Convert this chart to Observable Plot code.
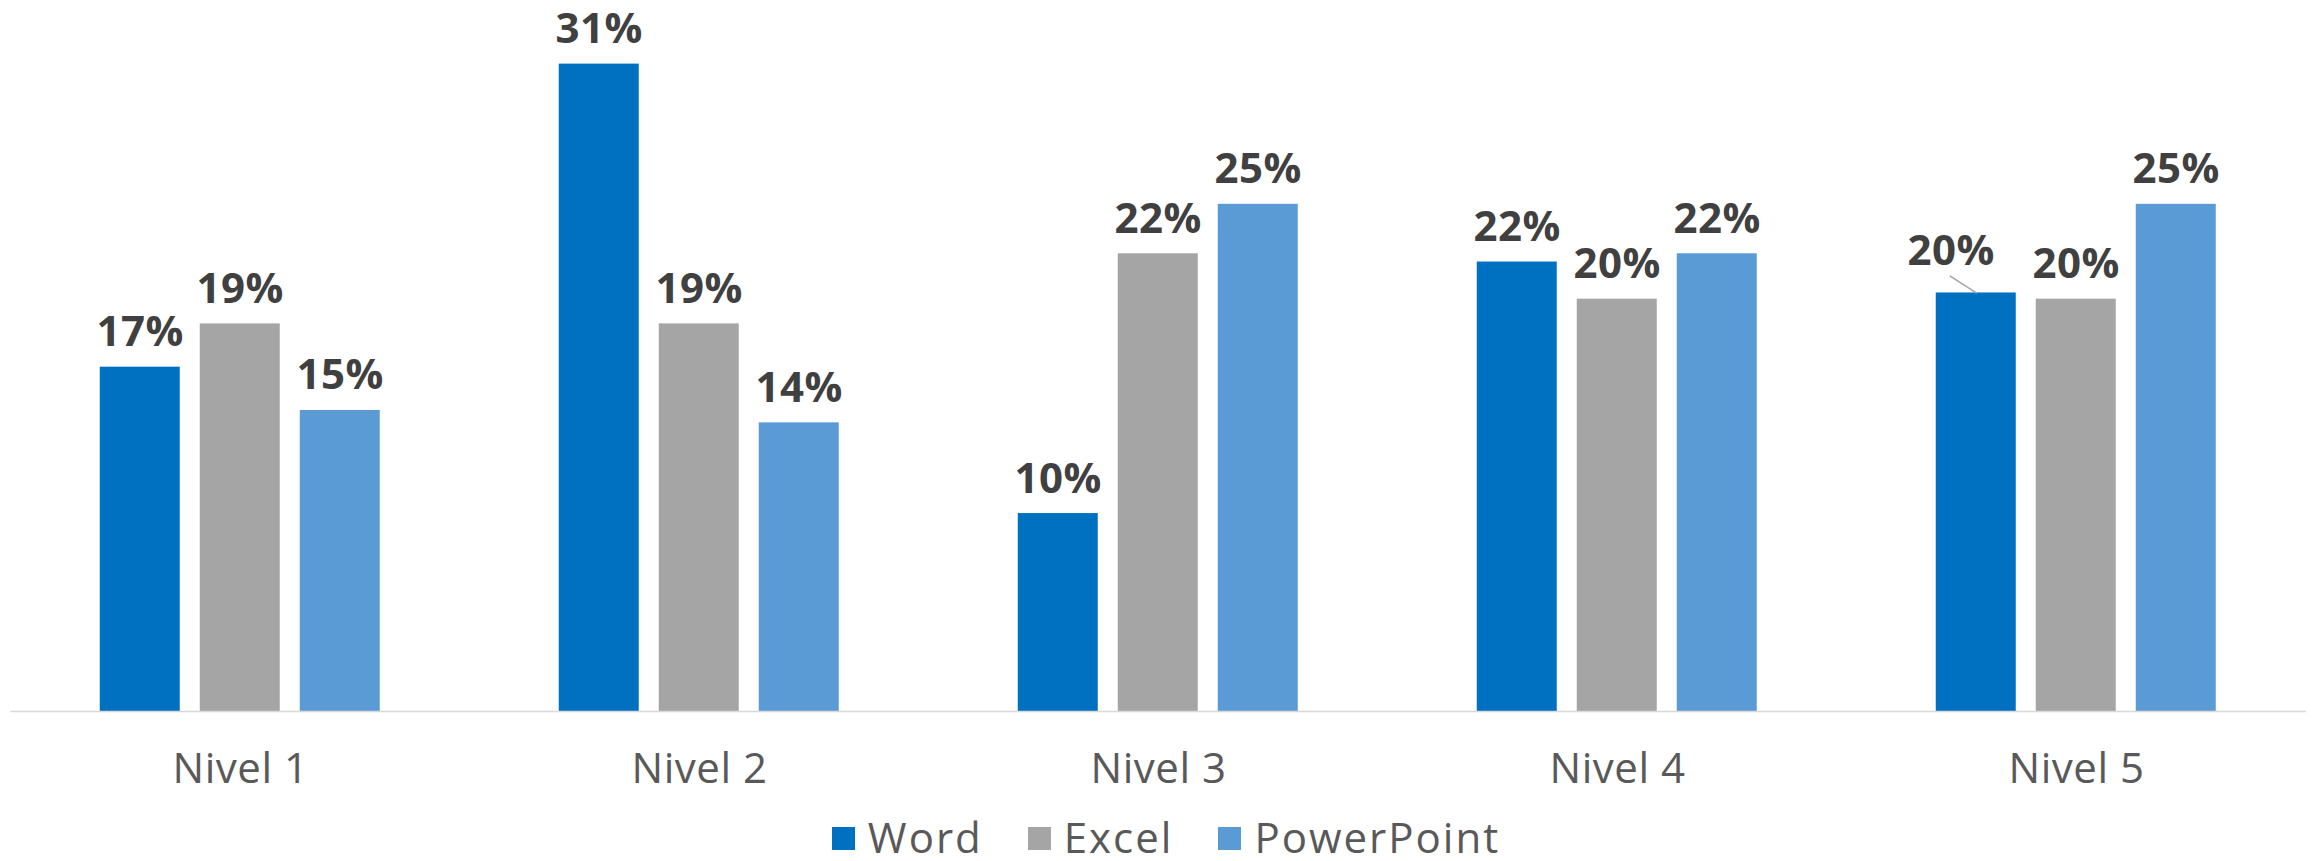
<!DOCTYPE html>
<html>
<head>
<meta charset="utf-8">
<script src="https://cdn.jsdelivr.net/npm/d3@7"></script>
<script src="https://cdn.jsdelivr.net/npm/@observablehq/plot@0.6"></script>
<style>
  html, body { margin: 0; padding: 0; background: #fff; overflow: hidden; }
  #chart svg { display: block; }
  #legend {
    display: flex; justify-content: center; align-items: center;
    height: 49px; line-height: 38px; overflow: visible;
    font-family: "Open Sans", sans-serif; font-size: 42px; color: #595959;
    letter-spacing: 2px;
    padding-left: 16px;
  }
  .item { display: flex; align-items: center; margin-right: 45px; height: 38px; }
  .item:last-child { margin-right: 0; }
  .sw { width: 23px; height: 23px; margin-right: 13px; margin-top: 4px; }
</style>
</head>
<body>
<div id="chart"></div>
<div id="legend"></div>
<script>
// ---- data ----
const levels = ["Nivel 1", "Nivel 2", "Nivel 3", "Nivel 4", "Nivel 5"];
const series = ["Word", "Excel", "PowerPoint"];
const colors = ["#0070C0", "#A5A5A5", "#5B9BD5"];
const word = [16.7, 31.4, 9.6, 21.8, 20.3];
const excel = [18.8, 18.8, 22.2, 20.0, 20.0];
const powerpoint = [14.6, 14.0, 24.6, 22.2, 24.6];
// labels pulled out with a leader line
const leaderLabels = [{level: "Nivel 5", series: "Word"}];

// ---- table ----
const valuesBySeries = {Word: word, Excel: excel, PowerPoint: powerpoint};
const data = [];
levels.forEach((lv, i) => {
  series.forEach(s => data.push({level: lv, series: s, value: valuesBySeries[s][i]}));
});
const isLeader = d => leaderLabels.some(l => l.level === d.level && l.series === d.series);
const fmt = d => Math.round(d.value) + "%";

const labelStyle = {
  fontFamily: "Open Sans", fontWeight: 700, fontSize: 42, fill: "#404040",
  lineAnchor: "bottom", textAnchor: "middle"
};

const chart = Plot.plot({
  width: 2316,
  height: 812,
  marginTop: 10,
  marginBottom: 101,
  marginLeft: 9.25,
  marginRight: 9.25,
  facet: {marginTop: 10, marginBottom: 101, marginLeft: 9.25, marginRight: 9.25},
  style: {fontFamily: "Open Sans", fontSize: "42px", color: "#595959", background: "#fff", overflow: "visible", letterSpacing: "0.5px"},
  fx: {domain: levels, paddingInner: 0.39064, paddingOuter: 0.19532, axis: "bottom", label: null, tickSize: 0, tickPadding: 42},
  x: {domain: series, paddingInner: 0.2, paddingOuter: 0, axis: null},
  y: {domain: [0, 34], axis: null},
  color: {domain: series, range: colors},
  marks: [
    Plot.barY(data, {fx: "level", x: "series", y: "value", fill: "series"}),
    Plot.ruleY([0], {stroke: "#D9D9D9", strokeWidth: 1.5, insetLeft: -89.75, insetRight: -89.75}),
    Plot.text(data.filter(d => !isLeader(d)), {
      fx: "level", x: "series", y: "value", text: fmt, dy: -21, ...labelStyle
    }),
    Plot.text(data.filter(isLeader), {
      fx: "level", x: "series", y: "value", text: fmt, dx: -25, dy: -28, ...labelStyle
    }),
    Plot.vector(data.filter(isLeader), {
      fx: "level", x: "series", y: "value", anchor: "start", length: 31, rotate: -57,
      stroke: "#A6A6A6", strokeWidth: 1.5,
      shape: {draw(context, l) { context.moveTo(0, 0); context.lineTo(0, -l); }}
    })
  ]
});
document.getElementById("chart").appendChild(chart);

// ---- legend ----
const legend = document.getElementById("legend");
series.forEach((s, i) => {
  const item = document.createElement("div");
  item.className = "item";
  const sw = document.createElement("span");
  sw.className = "sw";
  sw.style.background = colors[i];
  const t = document.createElement("span");
  t.textContent = s;
  item.appendChild(sw);
  item.appendChild(t);
  legend.appendChild(item);
});
</script>
</body>
</html>
